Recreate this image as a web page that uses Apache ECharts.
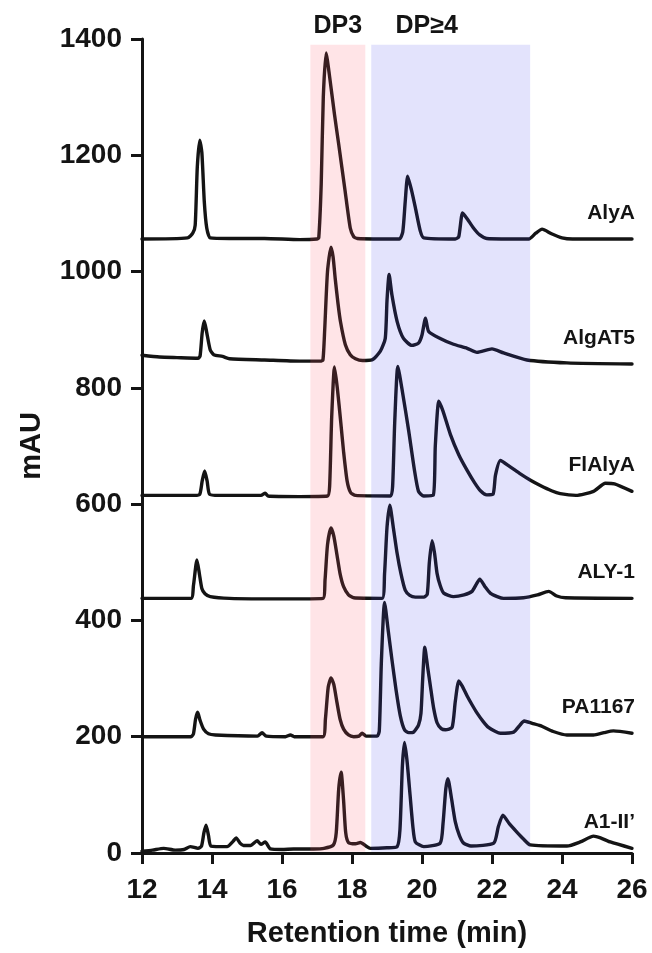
<!DOCTYPE html>
<html lang="en">
<head>
  <meta charset="utf-8">
  <title>Retention time chromatograms</title>
  <script src="https://cdn.jsdelivr.net/npm/echarts@6/dist/echarts.min.js"></script>
  <style>
    html, body, #chart { width: 100%; height: 100%; margin: 0; padding: 0; overflow: hidden; background: #fff; }
  </style>
</head>
<body>
  <div id="chart"></div>
  <script>
    // traces: [retention time (min), mAU]
    var traceNames = ['AlyA', 'AlgAT5', 'FlAlyA', 'ALY-1', 'PA1167', 'A1-II\u2019'];

    var alyA = [[12,1056],[13.3,1058],[13.45,1066],[13.52,1080],[13.58,1180],[13.65,1226],[13.71,1205],[13.78,1120],[13.85,1075],[13.95,1058],[14.5,1057],[15.5,1057],[16.5,1055],[17.0,1056],[17.05,1058],[17.12,1150],[17.18,1300],[17.26,1376],[17.35,1340],[17.5,1270],[17.62,1219],[17.8,1140],[17.95,1075],[18.05,1060],[18.15,1057],[19.35,1056],[19.45,1068],[19.52,1120],[19.59,1164],[19.7,1140],[19.81,1110],[19.95,1070],[20.05,1058],[20.95,1056],[21.05,1060],[21.16,1101],[21.3,1090],[21.47,1075],[21.65,1063],[21.85,1057],[23.05,1056],[23.25,1066],[23.43,1073],[23.7,1065],[24.0,1058],[24.3,1056],[26,1056]];

    var algAT5 = [[12,856],[12.5,853],[13.0,852],[13.6,851],[13.66,855],[13.72,895],[13.78,915],[13.85,895],[13.95,865],[14.05,857],[14.3,854],[14.5,850],[15.5,848],[16.5,846],[17.1,846],[17.17,848],[17.22,900],[17.3,1000],[17.4,1042],[17.46,1025],[17.52,988],[17.6,945],[17.67,914],[17.81,874],[17.95,857],[18.1,850],[18.3,847],[18.57,848],[18.81,863],[18.95,885],[19.0,950],[19.06,995],[19.14,960],[19.29,914],[19.47,885],[19.71,873],[19.9,877],[20.0,891],[20.1,920],[20.19,897],[20.52,885],[20.9,875],[21.29,868],[21.57,861],[22.0,867],[22.33,860],[23.0,848],[24.14,843],[26,841]];

    var flAlyA = [[12,615],[13.5,615],[13.65,617],[13.72,640],[13.79,657],[13.86,640],[13.93,617],[14.2,615],[15.4,615],[15.52,619],[15.6,614],[16.5,613],[17.3,614],[17.36,630],[17.42,750],[17.5,836],[17.58,800],[17.68,740],[17.76,690],[17.86,640],[17.96,620],[18.1,615],[19.1,614],[19.16,630],[19.22,740],[19.31,837],[19.45,790],[19.62,726],[19.78,660],[19.9,622],[20.05,614],[20.32,615],[20.38,700],[20.48,777],[20.6,760],[20.81,720],[21.05,685],[21.29,658],[21.5,637],[21.67,623],[21.85,616],[22.03,617],[22.1,650],[22.24,675],[22.5,665],[22.81,652],[23.1,641],[23.38,632],[23.7,623],[23.95,618],[24.4,615],[24.9,622],[25.24,636],[25.5,635],[26,622]];

    var aly1 = [[12,438],[13.4,438],[13.47,460],[13.57,504],[13.64,480],[13.71,455],[13.8,446],[13.95,441],[14.5,438],[16,437],[17.17,438],[17.23,470],[17.3,530],[17.4,559],[17.48,545],[17.57,513],[17.66,480],[17.76,458],[17.9,444],[18.05,439],[18.86,438],[18.93,480],[19.0,560],[19.08,598],[19.18,560],[19.29,515],[19.4,480],[19.52,452],[19.65,443],[19.81,440],[20.05,440],[20.15,445],[20.21,500],[20.29,537],[20.36,515],[20.43,481],[20.52,460],[20.62,447],[20.9,441],[21.2,444],[21.43,450],[21.55,462],[21.65,471],[21.8,458],[21.95,447],[22.15,441],[22.33,438],[22.9,439],[23.3,444],[23.62,450],[23.85,442],[24.1,439],[26,438]];

    var pa1167 = [[12,200],[13.4,200],[13.47,205],[13.53,230],[13.59,242],[13.66,228],[13.76,213],[13.9,205],[14.1,203],[15.3,201],[15.43,207],[15.55,201],[16.1,200],[16.24,203],[16.35,200],[17.17,200],[17.24,230],[17.32,285],[17.4,301],[17.48,290],[17.57,259],[17.66,230],[17.76,213],[17.9,203],[18.05,200],[18.2,201],[18.29,206],[18.4,201],[18.72,201],[18.78,210],[18.84,330],[18.93,431],[19.04,380],[19.14,333],[19.26,280],[19.38,236],[19.5,212],[19.62,207],[19.76,208],[19.9,220],[19.97,240],[20.02,300],[20.08,354],[20.16,320],[20.24,287],[20.33,250],[20.43,224],[20.55,214],[20.67,212],[20.86,216],[20.95,260],[21.05,296],[21.15,287],[21.29,270],[21.43,255],[21.57,241],[21.75,226],[21.9,216],[22.1,209],[22.24,206],[22.62,208],[22.8,220],[22.92,227],[23.15,223],[23.38,219],[23.75,209],[24.14,203],[24.9,203],[25.2,207],[25.47,210],[26,206]];

    var a1II = [[12,3],[12.3,5],[12.62,8],[12.95,5],[13.2,6],[13.38,11],[13.6,8],[13.7,12],[13.77,35],[13.83,48],[13.9,30],[13.97,12],[14.43,11],[14.6,20],[14.69,26],[14.8,17],[14.9,13],[15.1,13],[15.29,21],[15.4,15],[15.52,19],[15.67,7],[16.0,6],[16.33,7],[16.9,7],[17.2,8],[17.47,14],[17.55,35],[17.62,110],[17.69,139],[17.76,90],[17.82,35],[17.9,18],[18.1,16],[18.24,18],[18.4,12],[18.52,8],[19.0,9],[19.29,11],[19.37,40],[19.44,150],[19.5,190],[19.57,160],[19.66,99],[19.74,45],[19.81,19],[20.05,11],[20.52,17],[20.6,50],[20.68,110],[20.74,128],[20.84,95],[20.95,54],[21.07,30],[21.19,17],[21.4,12],[22.05,17],[22.18,45],[22.31,65],[22.5,50],[22.71,36],[22.9,24],[23.09,14],[24.14,12],[24.52,19],[24.9,29],[25.1,26],[25.38,19],[26,8]];

    var traces = [alyA, algAT5, flAlyA, aly1, pa1167, a1II];

    // shaded fractions: [start, end] retention time
    var bandNames = ['DP3', 'DP\u22654'];
    var bandRanges = [[16.81, 18.38], [18.55, 23.09]];
    var bandTop = 1390;

    var xTicks = { min: 12, max: 26, step: 2 };
    var yTicks = { min: 0, max: 1400, step: 200 };

    var font = "'Liberation Sans', Arial, Helvetica, sans-serif";
    var ink = '#141414';

    var chart = echarts.init(document.getElementById('chart'));

    var series = traces.map(function (pts, i) {
      var last = pts[pts.length - 1];
      return {
        name: traceNames[i],
        type: 'line',
        data: pts,
        showSymbol: false,
        smooth: 0.2,
        z: 2,
        lineStyle: { color: ink, width: 3.4, join: 'round', cap: 'round' },
        markPoint: {
          silent: true,
          symbol: 'circle',
          symbolSize: 0,
          data: [{ coord: last }],
          label: {
            show: true,
            formatter: traceNames[i],
            position: 'left',
            distance: 0,
            offset: [3, -26],
            color: ink,
            fontFamily: font,
            fontWeight: 'bold',
            fontSize: 21
          }
        }
      };
    });

    var bandColors = ['rgba(255, 90, 105, 0.16)', 'rgba(70, 70, 235, 0.15)'];
    var bandLabelShift = [0, -24];

    series.push({
      name: 'bands',
      type: 'line',
      data: [],
      z: 10,
      markArea: {
        silent: true,
        z: 10,
        data: bandRanges.map(function (r, i) {
          return [
            { name: bandNames[i], xAxis: r[0], yAxis: 2,
              itemStyle: { color: bandColors[i] },
              label: { offset: [bandLabelShift[i], 0] } },
            { xAxis: r[1], yAxis: bandTop }
          ];
        }),
        label: {
          show: true,
          position: 'top',
          distance: 6,
          color: ink,
          fontFamily: font,
          fontWeight: 'bold',
          fontSize: 25
        }
      }
    });

    chart.setOption({
      animation: false,
      backgroundColor: '#fff',
      grid: { left: 142, right: 20, top: 39, bottom: 95 },
      xAxis: {
        type: 'value',
        min: xTicks.min, max: xTicks.max, interval: xTicks.step,
        name: 'Retention time (min)',
        nameLocation: 'middle',
        nameGap: 66,
        nameTextStyle: { color: ink, fontFamily: font, fontWeight: 'bold', fontSize: 29 },
        axisLine: { lineStyle: { color: ink, width: 3 } },
        axisTick: { length: 11, lineStyle: { color: ink, width: 3 } },
        axisLabel: { color: ink, fontFamily: font, fontWeight: 'bold', fontSize: 28, margin: 23 },
        splitLine: { show: false }
      },
      yAxis: {
        type: 'value',
        min: yTicks.min, max: yTicks.max, interval: yTicks.step,
        name: 'mAU',
        nameLocation: 'middle',
        nameRotate: 90,
        nameGap: 96,
        nameTextStyle: { color: ink, fontFamily: font, fontWeight: 'bold', fontSize: 29 },
        axisLine: { lineStyle: { color: ink, width: 3 } },
        axisTick: { length: 11, lineStyle: { color: ink, width: 3 } },
        axisLabel: {
          color: ink, fontFamily: font, fontWeight: 'bold', fontSize: 28, margin: 20,
          formatter: function (v) { return String(v); }
        },
        splitLine: { show: false }
      },
      series: series
    });
  </script>
</body>
</html>
